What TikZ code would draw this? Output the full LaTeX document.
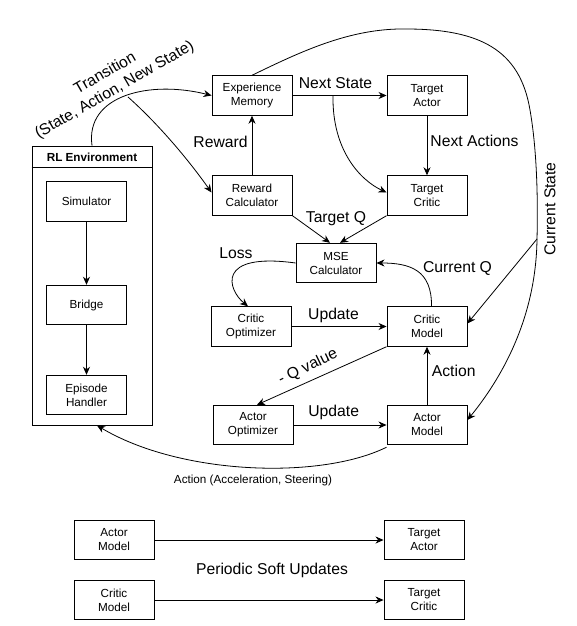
\documentclass[tikz,border=0pt]{standalone}
\usepackage{fontspec}
\setmainfont{Liberation Sans}
\usetikzlibrary{arrows.meta}
\begin{document}
\begin{tikzpicture}[x=1pt,y=-1pt,
  box/.style={draw, line width=0.9pt, minimum width=80pt, minimum height=39.5pt, inner sep=0pt, align=center, font=\fontsize{11.7}{14}\selectfont},
  lbl/.style={inner sep=0pt, font=\fontsize{15.7}{18.8}\selectfont},
  conn/.style={line width=0.8pt, -{Stealth[length=8pt,width=7pt,inset=2.5pt]}},
  plain/.style={line width=0.8pt}]
\useasboundingbox (0,0) rectangle (577,626);
% RL environment
\node[draw, line width=0.9pt, minimum width=120pt, minimum height=279pt, inner sep=0pt] (rl) at (92,285.5) {};
\draw[line width=0.9pt] ([yshift=-22pt]rl.north west) -- ([yshift=-22pt]rl.north east);
\node[font=\fontsize{11.7}{14}\selectfont\bfseries, inner sep=0pt] (rlt) at (92,157) {RL Environment};
\node[box] (sim) at (86.5,201.5) {Simulator};
\node[box] (br) at (86.5,305) {Bridge};
\node[box] (eh) at (86.5,395) {Episode\\Handler};
% main nodes
\node[box] (em) at (252,95.5) {Experience\\Memory};
\node[box] (ta) at (427,95.5) {Target\\Actor};
\node[box] (rc) at (252,195.5) {Reward\\Calculator};
\node[box] (tc) at (427,195.5) {Target\\Critic};
\node[box] (mse) at (336,263) {MSE\\Calculator};
\node[box] (co) at (251,326.5) {Critic\\Optimizer};
\node[box] (cm) at (427,326.5) {Critic\\Model};
\node[box] (ao) at (253,425) {Actor\\Optimizer};
\node[box] (am) at (427,425) {Actor\\Model};
% bottom
\node[box] (bam) at (114,540) {Actor\\Model};
\node[box] (bta) at (424,540) {Target\\Actor};
\node[box] (bcm) at (114,600) {Critic\\Model};
\node[box] (btc) at (424,600) {Target\\Critic};
\node[lbl] (psu) at (272,570) {Periodic Soft Updates};
\draw[conn] (bam) -- (bta);
\draw[conn] (bcm) -- (btc);
% inner arrows
\draw[conn] (sim) -- (br);
\draw[conn] (br) -- (eh);
% transition
\coordinate (tsplit) at (128,97);
\draw[conn] (rl.north) .. controls (85,95) and (150,80) .. (em.west);
\draw[conn] (tsplit) .. controls (155,121) and (185,155) .. ([yshift=3pt]rc.west);
\node[lbl, rotate=30, align=center] (trl) at (110,82) {Transition\\(State, Action, New State)};
% reward
\draw[conn] (rc) -- (em);
\node[lbl] (rwl) at (220.5,142) {Reward};
% next state
\draw[conn] (em) -- (ta);
\node[lbl] (nsl) at (335.5,83) {Next State};
\coordinate (nsplit) at (333,95.5);
\draw[conn] (nsplit) .. controls (332,150) and (360,180) .. ([yshift=3pt]tc.west);
% next actions
\draw[conn] (ta) -- (tc);
\node[lbl] (nal) at (474.5,140.5) {Next Actions};
% target Q
\draw[conn] (rc.south east) -- ([xshift=-6pt]mse.north);
\draw[conn] (tc.south west) -- ([xshift=4pt]mse.north);
\node[lbl] (tql) at (336,218.5) {Target Q};
% loss
\draw[conn] (mse.west) .. controls (215,252) and (228,290) .. ([xshift=-3pt]co.north);
\node[lbl] (lsl) at (236,253.5) {Loss};
% update critic
\draw[conn] (co) -- (cm);
\node[lbl] (ucl) at (333.5,315.5) {Update};
% current Q
\draw[conn] ([xshift=4.5pt]cm.north) .. controls (432,270) and (410,263) .. (mse.east);
\node[lbl] (cql) at (457.5,268.5) {Current Q};
% action
\draw[conn] (am) -- (cm);
\node[lbl] (acl) at (453.7,370.5) {Action};
% -Q value
\draw[conn] (cm.south west) -- ([xshift=4pt]ao.north);
\node[lbl, rotate=26] (qvl) at (308,367) {- Q value};
% update actor
\draw[conn] (ao) -- (am);
\node[lbl] (ual) at (333.7,412.5) {Update};
% action to env
\draw[conn] ([yshift=-2pt]am.south west) .. controls (320,480) and (180,475) .. ([xshift=5pt]rl.south);
\node[inner sep=0pt, font=\fontsize{11.7}{14}\selectfont] (aal) at (253,480) {Action (Acceleration, Steering)};
% current state
\coordinate (cs) at (537,239);
\draw[plain] (em.north) .. controls (300,52) and (350,28) .. (406,29)
  .. controls (480,29) and (520,50) .. (530,110)
  .. controls (537,150) and (538,200) .. (cs);
\draw[conn] (cs) .. controls (536,320) and (500,380) .. ([yshift=5pt]am.east);
\draw[conn] (cs) -- ([yshift=3pt]cm.east);
\node[lbl, rotate=90] (csl) at (550,209) {Current State};
\end{tikzpicture}
\end{document}
